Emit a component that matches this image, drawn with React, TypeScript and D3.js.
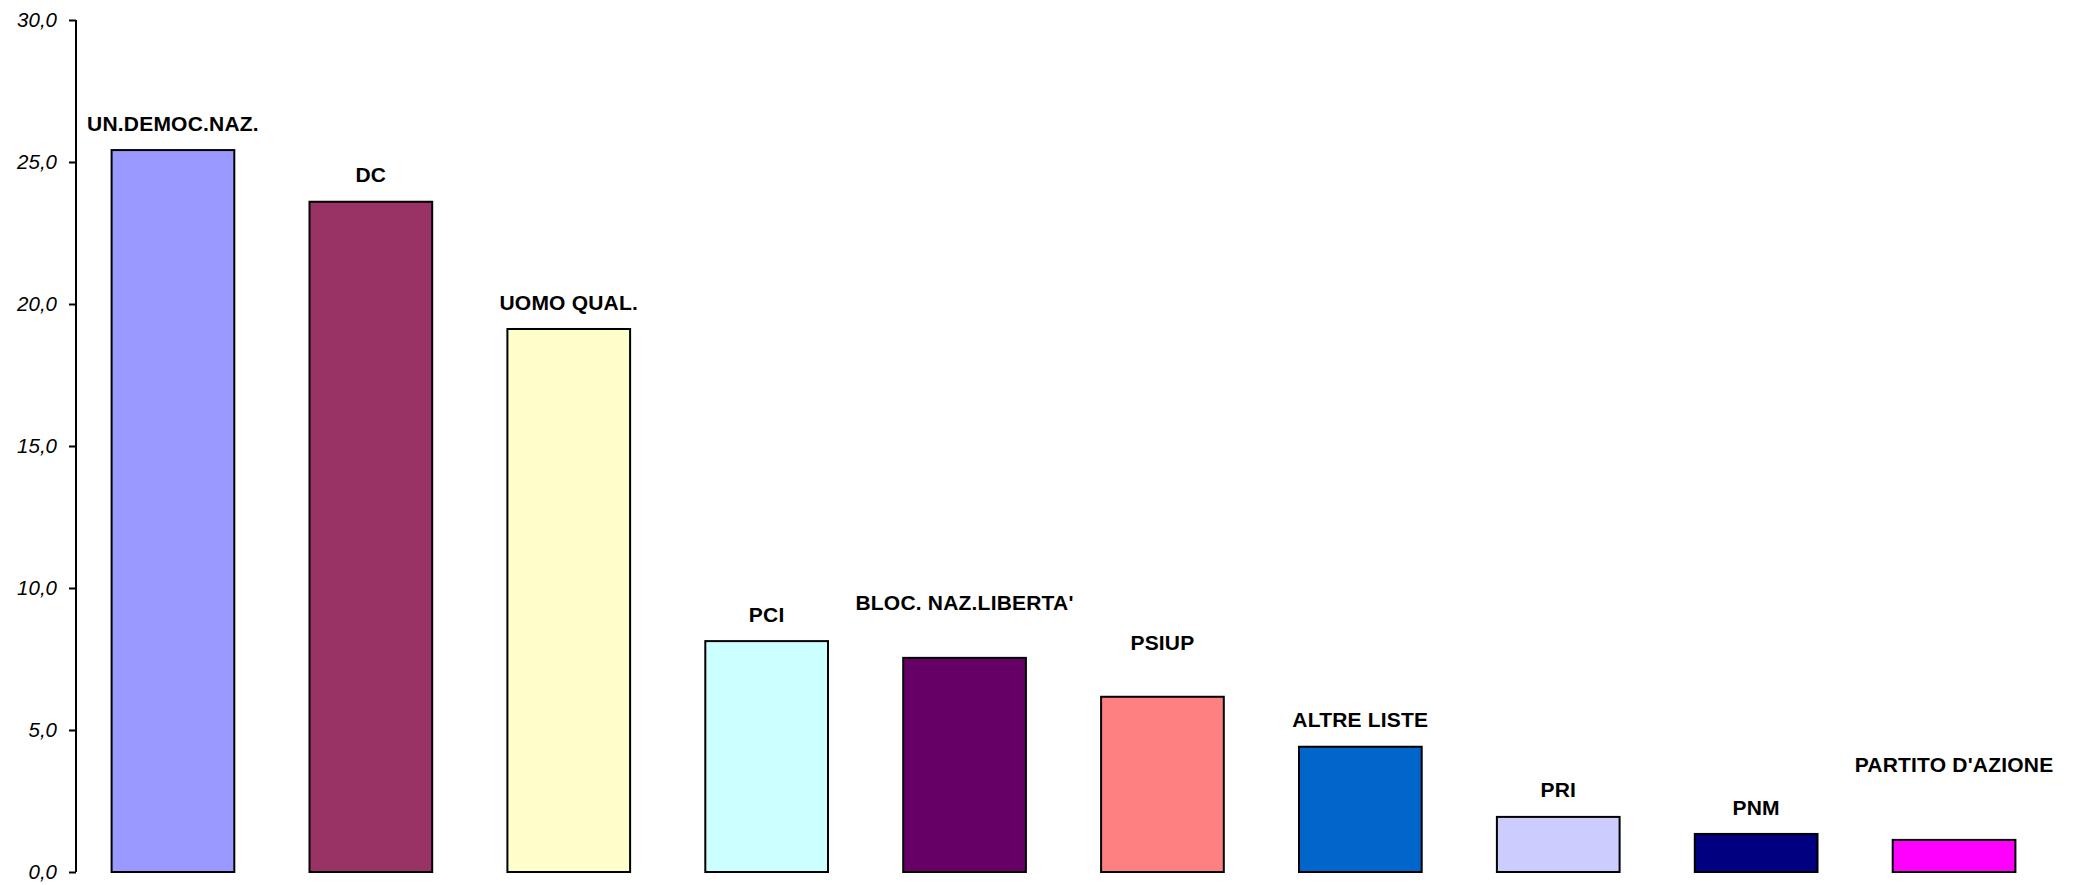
import React, { useEffect, useRef } from "react";
import * as d3 from "d3";

const categories = [
  "UN.DEMOC.NAZ.",
  "DC",
  "UOMO QUAL.",
  "PCI",
  "BLOC. NAZ.LIBERTA'",
  "PSIUP",
  "ALTRE LISTE",
  "PRI",
  "PNM",
  "PARTITO D'AZIONE",
];
const values = [25.42, 23.6, 19.12, 8.13, 7.54, 6.17, 4.41, 1.94, 1.34, 1.13];
const colors = [
  "#9999FF",
  "#993366",
  "#FFFFCC",
  "#CCFFFF",
  "#660066",
  "#FF8080",
  "#0066CC",
  "#CCCCFF",
  "#000080",
  "#FF00FF",
];
const yTicks = [0, 5, 10, 15, 20, 25, 30];

const W = 2081;
const H = 885;

export default function App() {
  const ref = useRef<SVGSVGElement>(null);

  useEffect(() => {
    const svg = d3.select(ref.current);
    svg.selectAll("*").remove();

    const x = d3.scaleBand<string>().domain(categories).range([74, 2053]).paddingInner(0.38).paddingOuter(0.19);
    const y = d3.scaleLinear().domain([0, 30]).range([872, 20]);

    // label raise (px above bar top, to label centre)
    const raise: Record<string, number> = {
      "BLOC. NAZ.LIBERTA'": 55,
      PSIUP: 54,
      "PARTITO D'AZIONE": 75,
    };

    const g = svg.append("g");

    g.selectAll("rect.bar")
      .data(categories)
      .join("rect")
      .attr("class", "bar")
      .attr("x", (d) => x(d)!)
      .attr("width", x.bandwidth())
      .attr("y", (_, i) => y(values[i]))
      .attr("height", (_, i) => y(0) - y(values[i]))
      .attr("fill", (_, i) => colors[i])
      .attr("stroke", "#000")
      .attr("stroke-width", 2);

    g.selectAll("text.lbl")
      .data(categories)
      .join("text")
      .attr("class", "lbl")
      .attr("x", (d) => x(d)! + x.bandwidth() / 2)
      .attr("y", (d, i) => y(values[i]) - (raise[d] ?? 27))
      .attr("dy", "0.36em")
      .attr("text-anchor", "middle")
      .attr("font-family", "'Liberation Sans', Arial, sans-serif")
      .attr("font-weight", "bold")
      .attr("font-size", 21)
      .attr("letter-spacing", "0.2px")
      .attr("fill", "#000")
      .text((d) => d);

    const axis = d3
      .axisLeft(y)
      .tickValues(yTicks)
      .tickSize(7)
      .tickPadding(12)
      .tickFormat((d) => d3.format(".1f")(d as number).replace(".", ","));

    const ax = svg.append("g").attr("transform", "translate(76,0)").call(axis);
    ax.select(".domain").attr("stroke", "#000").attr("stroke-width", 2).attr("d", `M0,${y(30)}V${y(0)}`);
    ax.selectAll(".tick line").attr("stroke", "#000").attr("stroke-width", 2);
    ax.selectAll(".tick text")
      .attr("font-family", "'Liberation Sans', Arial, sans-serif")
      .attr("font-style", "italic")
      .attr("font-size", 20.5)
      .attr("fill", "#000");
  }, []);

  return (
    <svg
      ref={ref}
      width={W}
      height={H}
      style={{ position: "absolute", left: 0, top: 0, background: "#fff" }}
    />
  );
}
